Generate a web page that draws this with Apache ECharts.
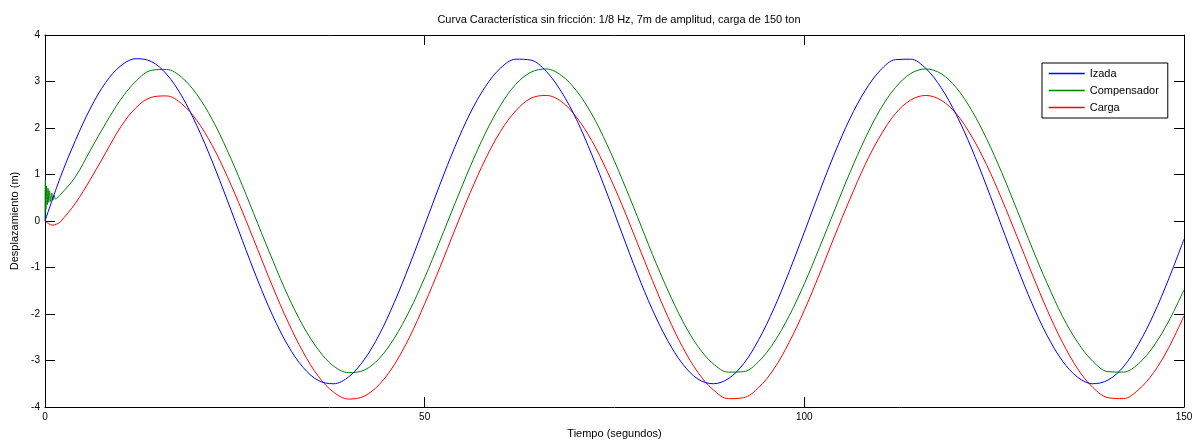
<!DOCTYPE html>
<html>
<head>
<meta charset="utf-8">
<script src="https://cdn.jsdelivr.net/npm/echarts@6/dist/echarts.min.js"></script>
<style>
html,body{margin:0;padding:0;background:#fff}
#c{width:1192px;height:440px}
</style>
</head>
<body>
<div id="c"></div>
<script>
const titulo = 'Curva Característica sin fricción: 1/8 Hz, 7m de amplitud, carga de 150 ton';
const nombreEjeX = 'Tiempo (segundos)';
const nombreEjeY = 'Desplazamiento (m)';
const nombresSeries = ['Izada', 'Compensador', 'Carga'];
const coloresSeries = ['#0000ff', '#008000', '#ff0000'];

// Tiempo de muestreo (s)
const tiempo = [0,2,4,6,8,10,12,14,16,18,20,22,24,26,28,30,32,34,36,38,40,42,44,46,48,50,52,54,56,58,60,62,64,66,68,70,72,74,76,78,80,82,84,86,88,90,92,94,96,98,100,102,104,106,108,110,112,114,116,118,120,122,124,126,128,130,132,134,136,138,140,142,144,146,148,150];

const izada = [0.00,0.93,1.73,2.43,2.98,3.34,3.49,3.43,3.16,2.69,
  2.05,1.29,0.45,-0.42,-1.27,-2.04,-2.68,-3.15,-3.43,-3.50,
  -3.35,-2.99,-2.45,-1.75,-0.95,-0.09,0.78,1.60,2.32,2.89,
  3.29,3.48,3.46,3.22,2.78,2.18,1.43,0.60,-0.27,-1.13,
  -1.91,-2.57,-3.08,-3.40,-3.50,-3.39,-3.07,-2.55,-1.88,-1.09,
  -0.24,0.63,1.46,2.20,2.80,3.24,3.47,3.48,3.28,2.87,
  2.29,1.57,0.75,-0.12,-0.98,-1.78,-2.47,-3.01,-3.36,-3.50,
  -3.42,-3.14,-2.65,-2.01,-1.24,-0.39];

const compensador = [0.00,0.56,0.95,1.53,2.10,2.62,3.01,3.24,3.26,3.09,
  2.72,2.19,1.52,0.76,-0.05,-0.85,-1.61,-2.26,-2.77,-3.12,
  -3.26,-3.21,-2.96,-2.52,-1.93,-1.22,-0.43,0.38,1.17,1.89,
  2.49,2.94,3.20,3.27,3.13,2.80,2.30,1.65,0.90,0.10,
  -0.72,-1.48,-2.16,-2.70,-3.07,-3.25,-3.24,-3.02,-2.61,-2.04,
  -1.35,-0.57,0.24,1.04,1.77,2.40,2.87,3.17,3.27,3.17,
  2.87,2.39,1.77,1.04,0.24,-0.58,-1.35,-2.05,-2.61,-3.02,
  -3.24,-3.25,-3.07,-2.69,-2.15,-1.48];

const carga = [0.00,-0.02,0.38,0.90,1.47,2.03,2.44,2.66,2.69,2.52,
  2.16,1.63,0.96,0.20,-0.61,-1.42,-2.17,-2.82,-3.34,-3.68,
  -3.83,-3.77,-3.52,-3.09,-2.50,-1.78,-1.00,-0.18,0.61,1.33,
  1.93,2.37,2.64,2.70,2.57,2.23,1.73,1.08,0.34,-0.47,
  -1.28,-2.05,-2.72,-3.26,-3.63,-3.82,-3.80,-3.58,-3.18,-2.61,
  -1.92,-1.14,-0.32,0.47,1.21,1.83,2.31,2.60,2.70,2.60,
  2.31,1.83,1.21,0.47,-0.33,-1.14,-1.92,-2.61,-3.18,-3.58,
  -3.80,-3.82,-3.63,-3.26,-2.72,-2.04];

// Transitorio inicial del compensador (oscilación amortiguada)
const tiempoTransitorio = [0.05,0.12,0.2,0.3,0.4,0.5,0.6,0.75,0.9,1.05,1.2,1.4,1.6];
const compensadorTransitorio = [0.88,0.25,0.75,0.35,0.70,0.40,0.65,0.42,0.60,0.45,0.55,0.47,0.50];
// Pequeña caída inicial de la carga
const tiempoCargaInicio = [0.5,1.0,1.5];
const cargaInicio = [-0.06,-0.09,-0.07];

// Ejes
const ejeXMin = 0, ejeXMax = 150, ejeXIntervalo = 50;
const ejeYMin = -4, ejeYMax = 4, ejeYIntervalo = 1;

function pares(ts, vs) { return ts.map((t, i) => [t, vs[i]]); }
function unir(a, b) { return a.concat(b).sort((p, q) => p[0] - q[0]); }

const datosSeries = [
  pares(tiempo, izada),
  unir(pares(tiempo, compensador), pares(tiempoTransitorio, compensadorTransitorio)),
  unir(pares(tiempo, carga), pares(tiempoCargaInicio, cargaInicio))
];

const FONT = "'Liberation Sans', Arial, Helvetica, sans-serif";
const axisLineStyle = { show: true, onZero: false, lineStyle: { color: '#000', width: 1 } };
const tickStyle = { show: true, inside: true, length: 10, lineStyle: { color: '#000', width: 1 } };

const chart = echarts.init(document.getElementById('c'), null, { renderer: 'canvas' });
chart.setOption({
  animation: false,
  backgroundColor: '#fff',
  color: coloresSeries,
  title: {
    text: titulo,
    left: 614,
    top: 9,
    textAlign: 'center',
    textStyle: { fontFamily: FONT, fontSize: 11, fontWeight: 'normal', color: '#000' }
  },
  grid: { left: 45, right: 8, top: 35, bottom: 33, containLabel: false, outerBoundsMode: 'none' },
  legend: {
    data: nombresSeries,
    orient: 'vertical',
    left: 1042,
    top: 63,
    padding: [5, 9, 5, 6],
    itemGap: 6,
    itemWidth: 36,
    itemHeight: 11,
    itemStyle: { opacity: 0 },
    lineStyle: { width: 1.4 },
    borderColor: '#000',
    borderWidth: 1,
    borderRadius: 0,
    backgroundColor: '#fff',
    textStyle: { fontFamily: FONT, fontSize: 11, color: '#000' }
  },
  xAxis: [
    {
      type: 'value', min: ejeXMin, max: ejeXMax, interval: ejeXIntervalo, position: 'bottom',
      axisLine: axisLineStyle, axisTick: tickStyle,
      axisLabel: { fontFamily: FONT, fontSize: 10, color: '#000', margin: 5 },
      splitLine: { show: false },
      name: nombreEjeX, nameLocation: 'middle', nameGap: 21,
      nameTextStyle: { fontFamily: FONT, fontSize: 11, color: '#000' }
    },
    {
      type: 'value', min: ejeXMin, max: ejeXMax, interval: ejeXIntervalo, position: 'top',
      axisLine: axisLineStyle, axisTick: tickStyle,
      axisLabel: { show: false }, splitLine: { show: false }
    }
  ],
  yAxis: [
    {
      type: 'value', min: ejeYMin, max: ejeYMax, interval: ejeYIntervalo, position: 'left',
      axisLine: axisLineStyle, axisTick: tickStyle,
      axisLabel: { fontFamily: FONT, fontSize: 10, color: '#000', margin: 5 },
      splitLine: { show: false },
      name: nombreEjeY, nameLocation: 'middle', nameGap: 18,
      nameTextStyle: { fontFamily: FONT, fontSize: 11, color: '#000' }
    },
    {
      type: 'value', min: ejeYMin, max: ejeYMax, interval: ejeYIntervalo, position: 'right',
      axisLine: axisLineStyle, axisTick: tickStyle,
      axisLabel: { show: false }, splitLine: { show: false }
    }
  ],
  series: nombresSeries.map((n, i) => ({
    name: n,
    type: 'line',
    data: datosSeries[i],
    xAxisIndex: 0,
    yAxisIndex: 0,
    symbol: 'none',
    smooth: 0.35,
    clip: true,
    itemStyle: { color: coloresSeries[i] },
    lineStyle: { color: coloresSeries[i], width: 1 },
    z: 2 + (2 - i)
  }))
});
</script>
</body>
</html>
